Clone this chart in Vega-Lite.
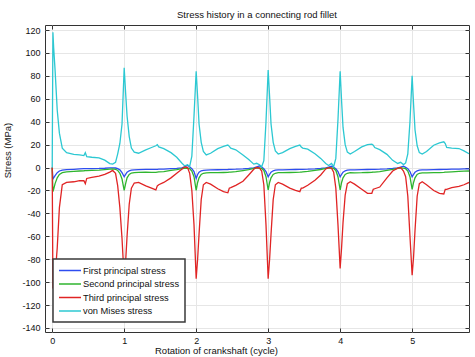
{
  "$schema": "https://vega.github.io/schema/vega-lite/v6.json",
  "width": 424,
  "height": 307,
  "autosize": {"type": "none"},
  "padding": {"left": 45, "top": 25, "right": 6, "bottom": 25},
  "title": {"text": "Stress history in a connecting rod fillet", "fontSize": 9.5, "fontWeight": "normal", "font": "Liberation Sans", "color": "#111", "offset": 5},
  "data": {"values": [
    {"x":0,"p1":0,"p2":0,"p3":0,"vm":0},
    {"x":0.01,"p1":-10,"p2":-21,"p3":-105,"vm":118},
    {"x":0.02,"p1":-9,"p2":-19,"p3":-105,"vm":105},
    {"x":0.04,"p1":-7,"p2":-14,"p3":-95,"vm":85},
    {"x":0.07,"p1":-4.5,"p2":-9,"p3":-70,"vm":50},
    {"x":0.1,"p1":-3,"p2":-6,"p3":-35,"vm":30},
    {"x":0.14,"p1":-2.2,"p2":-4.5,"p3":-15,"vm":17},
    {"x":0.2,"p1":-1.8,"p2":-3.8,"p3":-13,"vm":13},
    {"x":0.3,"p1":-1.5,"p2":-3.4,"p3":-12.4,"vm":11.5},
    {"x":0.38,"p1":-1.2,"p2":-3,"p3":-11.5,"vm":11},
    {"x":0.44,"p1":-1,"p2":-2.8,"p3":-11.5,"vm":10.5},
    {"x":0.46,"p1":-1,"p2":-2.7,"p3":-14,"vm":13},
    {"x":0.48,"p1":-1,"p2":-2.6,"p3":-9.5,"vm":9.5},
    {"x":0.55,"p1":-0.9,"p2":-2.4,"p3":-8.5,"vm":9},
    {"x":0.65,"p1":-0.8,"p2":-2.2,"p3":-7.5,"vm":8.5},
    {"x":0.73,"p1":-0.6,"p2":-1.8,"p3":-6,"vm":6.5},
    {"x":0.8,"p1":-0.3,"p2":-1.4,"p3":-4,"vm":3.5},
    {"x":0.84,"p1":-0.2,"p2":-1.2,"p3":-2.5,"vm":3},
    {"x":0.88,"p1":-0.4,"p2":-1.5,"p3":-5,"vm":4.5},
    {"x":0.91,"p1":-1,"p2":-2.5,"p3":-16,"vm":12},
    {"x":0.94,"p1":-2,"p2":-5,"p3":-35,"vm":21},
    {"x":0.97,"p1":-4.5,"p2":-10,"p3":-62,"vm":38},
    {"x":1,"p1":-8,"p2":-20,"p3":-97,"vm":87},
    {"x":1.02,"p1":-6,"p2":-14,"p3":-82,"vm":65},
    {"x":1.04,"p1":-4,"p2":-9,"p3":-60,"vm":45},
    {"x":1.07,"p1":-2.8,"p2":-6,"p3":-32,"vm":27},
    {"x":1.1,"p1":-2.3,"p2":-4.8,"p3":-18,"vm":17},
    {"x":1.14,"p1":-2,"p2":-4.4,"p3":-13.5,"vm":13.5},
    {"x":1.2,"p1":-1.8,"p2":-4.2,"p3":-13,"vm":12.5},
    {"x":1.3,"p1":-1.6,"p2":-4,"p3":-16,"vm":15.5},
    {"x":1.38,"p1":-1.5,"p2":-4.2,"p3":-18,"vm":17.5},
    {"x":1.44,"p1":-1.5,"p2":-4.2,"p3":-19.5,"vm":19},
    {"x":1.46,"p1":-1.5,"p2":-4,"p3":-16,"vm":20},
    {"x":1.48,"p1":-1.4,"p2":-3.8,"p3":-15,"vm":18},
    {"x":1.55,"p1":-1.3,"p2":-3.5,"p3":-13,"vm":16.5},
    {"x":1.65,"p1":-1,"p2":-2.5,"p3":-9,"vm":13},
    {"x":1.73,"p1":-0.7,"p2":-1.8,"p3":-5,"vm":9},
    {"x":1.8,"p1":-0.3,"p2":-1,"p3":-1.5,"vm":4},
    {"x":1.84,"p1":0.5,"p2":-0.6,"p3":0.7,"vm":1.5},
    {"x":1.88,"p1":2,"p2":-0.5,"p3":0,"vm":2.5},
    {"x":1.91,"p1":0.5,"p2":-1,"p3":-5,"vm":1},
    {"x":1.94,"p1":-1,"p2":-3,"p3":-20,"vm":10},
    {"x":1.97,"p1":-3.5,"p2":-8,"p3":-50,"vm":45},
    {"x":2,"p1":-9.5,"p2":-20,"p3":-97,"vm":84},
    {"x":2.02,"p1":-6,"p2":-13,"p3":-80,"vm":62},
    {"x":2.04,"p1":-4,"p2":-9,"p3":-58,"vm":38},
    {"x":2.07,"p1":-2.8,"p2":-6,"p3":-28,"vm":22},
    {"x":2.1,"p1":-2.4,"p2":-5,"p3":-15,"vm":14},
    {"x":2.14,"p1":-2.2,"p2":-4.6,"p3":-13,"vm":11},
    {"x":2.2,"p1":-2,"p2":-4.5,"p3":-14.5,"vm":12.5},
    {"x":2.3,"p1":-1.9,"p2":-4.5,"p3":-18.5,"vm":16.5},
    {"x":2.38,"p1":-1.8,"p2":-4.3,"p3":-21,"vm":18.5},
    {"x":2.44,"p1":-1.7,"p2":-4.2,"p3":-22,"vm":19.6},
    {"x":2.46,"p1":-1.6,"p2":-4,"p3":-18,"vm":18.5},
    {"x":2.48,"p1":-1.5,"p2":-3.9,"p3":-17.5,"vm":17},
    {"x":2.55,"p1":-1.4,"p2":-3.5,"p3":-15.5,"vm":15.5},
    {"x":2.65,"p1":-1.1,"p2":-2.6,"p3":-12,"vm":11},
    {"x":2.73,"p1":-0.7,"p2":-1.8,"p3":-6.5,"vm":7},
    {"x":2.8,"p1":-0.2,"p2":-0.8,"p3":-1.5,"vm":3},
    {"x":2.84,"p1":0.5,"p2":-0.4,"p3":0,"vm":3.7},
    {"x":2.88,"p1":1.5,"p2":-0.4,"p3":-0.5,"vm":2.5},
    {"x":2.91,"p1":0.5,"p2":-0.8,"p3":-3,"vm":0.7},
    {"x":2.94,"p1":-1,"p2":-2.5,"p3":-15,"vm":6},
    {"x":2.97,"p1":-3.5,"p2":-8,"p3":-50,"vm":40},
    {"x":3,"p1":-8,"p2":-19.6,"p3":-97,"vm":85},
    {"x":3.02,"p1":-6,"p2":-13,"p3":-80,"vm":62},
    {"x":3.04,"p1":-4,"p2":-9,"p3":-58,"vm":38},
    {"x":3.07,"p1":-2.8,"p2":-6,"p3":-28,"vm":22},
    {"x":3.1,"p1":-2.3,"p2":-5,"p3":-15,"vm":14.5},
    {"x":3.14,"p1":-2.1,"p2":-4.5,"p3":-13,"vm":11.8},
    {"x":3.2,"p1":-2,"p2":-4.4,"p3":-14.5,"vm":13},
    {"x":3.3,"p1":-1.8,"p2":-4.3,"p3":-18,"vm":16.5},
    {"x":3.38,"p1":-1.7,"p2":-4.2,"p3":-20,"vm":18.5},
    {"x":3.44,"p1":-1.6,"p2":-4,"p3":-21,"vm":19.6},
    {"x":3.46,"p1":-1.5,"p2":-3.9,"p3":-18,"vm":18},
    {"x":3.48,"p1":-1.5,"p2":-3.8,"p3":-18,"vm":17},
    {"x":3.55,"p1":-1.4,"p2":-3.4,"p3":-15.5,"vm":16},
    {"x":3.65,"p1":-1.1,"p2":-2.5,"p3":-11,"vm":12},
    {"x":3.73,"p1":-0.7,"p2":-1.7,"p3":-6.5,"vm":8},
    {"x":3.8,"p1":-0.2,"p2":-0.8,"p3":-1.2,"vm":3.5},
    {"x":3.84,"p1":0.4,"p2":-0.4,"p3":0,"vm":1.8},
    {"x":3.88,"p1":1.2,"p2":-0.4,"p3":-0.5,"vm":3.6},
    {"x":3.91,"p1":0.3,"p2":-0.8,"p3":-4,"vm":0.8},
    {"x":3.94,"p1":-1,"p2":-2.5,"p3":-18,"vm":8},
    {"x":3.97,"p1":-3.5,"p2":-8,"p3":-50,"vm":42},
    {"x":4,"p1":-8,"p2":-19.6,"p3":-88,"vm":84},
    {"x":4.02,"p1":-6,"p2":-13,"p3":-70,"vm":58},
    {"x":4.04,"p1":-4,"p2":-9,"p3":-48,"vm":35},
    {"x":4.07,"p1":-2.8,"p2":-6,"p3":-24,"vm":20},
    {"x":4.1,"p1":-2.3,"p2":-5,"p3":-14,"vm":13.5},
    {"x":4.14,"p1":-2.1,"p2":-4.5,"p3":-12.4,"vm":11.8},
    {"x":4.2,"p1":-2,"p2":-4.6,"p3":-14.5,"vm":14},
    {"x":4.3,"p1":-1.8,"p2":-4.5,"p3":-19,"vm":18},
    {"x":4.38,"p1":-1.7,"p2":-4.3,"p3":-22.5,"vm":20},
    {"x":4.44,"p1":-1.6,"p2":-4.1,"p3":-22.5,"vm":20.5},
    {"x":4.46,"p1":-1.5,"p2":-4,"p3":-19,"vm":19.5},
    {"x":4.48,"p1":-1.5,"p2":-3.9,"p3":-18.5,"vm":17.5},
    {"x":4.55,"p1":-1.4,"p2":-3.5,"p3":-17,"vm":15.6},
    {"x":4.65,"p1":-1.1,"p2":-2.5,"p3":-9,"vm":11.5},
    {"x":4.73,"p1":-0.7,"p2":-1.6,"p3":-3,"vm":6.3},
    {"x":4.8,"p1":-0.2,"p2":-0.7,"p3":-0.5,"vm":3.6},
    {"x":4.84,"p1":0.4,"p2":-0.4,"p3":0,"vm":4.6},
    {"x":4.88,"p1":1.2,"p2":-0.5,"p3":-3,"vm":2.6},
    {"x":4.91,"p1":0.2,"p2":-1,"p3":-8,"vm":4},
    {"x":4.94,"p1":-1,"p2":-3,"p3":-25,"vm":12},
    {"x":4.97,"p1":-3.5,"p2":-8,"p3":-60,"vm":40},
    {"x":5,"p1":-8,"p2":-19,"p3":-94,"vm":80},
    {"x":5.02,"p1":-6,"p2":-13,"p3":-78,"vm":55},
    {"x":5.04,"p1":-4,"p2":-9,"p3":-55,"vm":33},
    {"x":5.07,"p1":-2.8,"p2":-6,"p3":-25,"vm":19},
    {"x":5.1,"p1":-2.3,"p2":-5,"p3":-14,"vm":13},
    {"x":5.14,"p1":-2.1,"p2":-4.6,"p3":-12.4,"vm":11.8},
    {"x":5.2,"p1":-2,"p2":-4.6,"p3":-15,"vm":14},
    {"x":5.3,"p1":-1.8,"p2":-4.5,"p3":-20,"vm":19.5},
    {"x":5.38,"p1":-1.7,"p2":-4.4,"p3":-22.5,"vm":21.5},
    {"x":5.44,"p1":-1.6,"p2":-4.2,"p3":-23,"vm":22.5},
    {"x":5.46,"p1":-1.5,"p2":-4,"p3":-19,"vm":21},
    {"x":5.48,"p1":-1.5,"p2":-3.9,"p3":-19,"vm":17.5},
    {"x":5.55,"p1":-1.4,"p2":-3.7,"p3":-17.5,"vm":17},
    {"x":5.65,"p1":-1.3,"p2":-3.4,"p3":-16.5,"vm":16.6},
    {"x":5.72,"p1":-1.2,"p2":-3.2,"p3":-15,"vm":14.5},
    {"x":5.79,"p1":-1.1,"p2":-3,"p3":-13,"vm":12}
  ]},
  "transform": [{"fold": ["p1", "p2", "p3", "vm"], "as": ["s", "v"]}],
  "layer": [
    {
      "mark": {"type": "line", "strokeWidth": 1.3, "clip": true},
      "encoding": {
        "x": {"field": "x", "type": "quantitative",
              "scale": {"domain": [-0.1, 5.79], "nice": false, "zero": false},
              "axis": {"orient": "bottom", "title": "Rotation of crankshaft (cycle)", "values": [0,1,2,3,4,5],
                       "labelPadding": 8, "titleX": 171, "titleY": 13.5, "titleBaseline": "top", "titleAlign": "center"}},
        "y": {"field": "v", "type": "quantitative",
              "scale": {"domain": [-143.5, 124.4], "nice": false, "zero": false},
              "axis": {"orient": "left", "title": "Stress (MPa)", "values": [-140,-120,-100,-80,-60,-40,-20,0,20,40,60,80,100,120],
                       "labelExpr": "'' + datum.value", "titleX": -38, "titleY": 125, "titleBaseline": "middle", "titleAlign": "center", "titleAngle": 270}},
        "color": {"field": "s", "type": "nominal",
                  "scale": {"domain": ["p1", "p2", "p3", "vm"], "range": ["#2e4df0", "#2fb52f", "#e02424", "#2cc8d2"]},
                  "legend": {"title": null, "orient": "none", "legendX": 8, "legendY": 234,
                             "labelExpr": "datum.label == 'p1' ? 'First principal stress' : datum.label == 'p2' ? 'Second principal stress' : datum.label == 'p3' ? 'Third principal stress' : 'von Mises stress'",
                             "symbolType": "M-1,0H3", "symbolSize": 121, "symbolStrokeWidth": 1.5, "labelOffset": 12,
                             "rowPadding": 1.5, "padding": 5, "fillColor": "white", "strokeColor": "#3a3a3a",
                             "labelFontSize": 9.3, "labelFont": "Liberation Sans", "labelColor": "#111"}}
      }
    },
    {
      "mark": {"type": "line", "opacity": 0},
      "encoding": {
        "x": {"field": "x", "type": "quantitative", "axis": {"orient": "top", "title": null, "labels": false, "grid": false, "values": [0,1,2,3,4,5]}},
        "y": {"field": "v", "type": "quantitative", "axis": {"orient": "right", "title": null, "labels": false, "grid": false, "values": [-140,-120,-100,-80,-60,-40,-20,0,20,40,60,80,100,120]}},
        "detail": {"field": "s"}
      }
    }
  ],
  "resolve": {"axis": {"x": "independent", "y": "independent"}},
  "config": {
    "view": {"stroke": "#333", "strokeWidth": 1},
    "axis": {"domain": false, "grid": true, "gridColor": "#e6e6e6", "gridWidth": 1,
             "ticks": true, "tickSize": -4, "tickColor": "#333", "tickWidth": 1,
             "labelFont": "Liberation Sans", "labelFontSize": 9, "labelColor": "#111", "labelPadding": 9,
             "titleFont": "Liberation Sans", "titleFontSize": 9.5, "titleFontWeight": "normal", "titleColor": "#111"},
    "legend": {"strokeWidth": 1.5}
  }
}
